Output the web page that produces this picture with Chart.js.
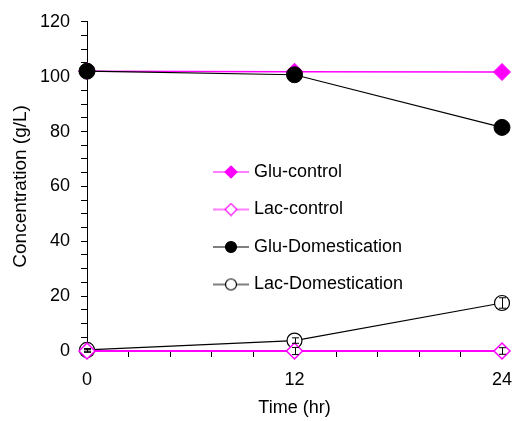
<!DOCTYPE html>
<html>
<head>
<meta charset="utf-8">
<script src="https://cdn.jsdelivr.net/npm/chart.js@4.4.1/dist/chart.umd.min.js"></script>
<style>
  body { margin: 0; background: #fff; }
  #wrap { width: 512px; height: 421px; }
</style>
</head>
<body>
<div id="wrap"><canvas id="chart" width="512" height="421"></canvas></div>
<script>
// sampling times (hr)
const hours = [0, 12, 24];

// concentrations (g/L)
const gluControl = [102, 101.8, 101.7];
const lacControl = [0, 0, 0];
const gluDomestication = [102, 100.7, 81.5];
const lacDomestication = [0.4, 3.8, 17.5];

// error bars (+/-)
const lacControlErr = [0.5, 1.3, 1.2];
const lacDomesticationErr = [0.5, 1.0, 1.9];

const xTickLabels = [0, 12, 24];
const yTickLabels = [0, 20, 40, 60, 80, 100, 120];

const MAGENTA = '#ff00ff';
const FONT = 'Arial, "Liberation Sans", sans-serif';

function pts(ys) {
    return hours.map((h, i) => ({ x: h, y: ys[i] }));
}

// little legend icon: line with marker in the middle
function makeIcon(color, style, fill) {
    const c = document.createElement('canvas');
    c.width = 36;
    c.height = 14;
    const g = c.getContext('2d');
    g.strokeStyle = color;
    g.lineWidth = 1.2;
    g.beginPath();
    g.moveTo(0, 7);
    g.lineTo(36, 7);
    g.stroke();
    g.fillStyle = fill;
    g.lineWidth = 1.2;
    g.beginPath();
    if (style === 'circle') {
        g.arc(18, 7, 5.5, 0, Math.PI * 2);
    } else {
        g.moveTo(12, 7);
        g.lineTo(18, 1);
        g.lineTo(24, 7);
        g.lineTo(18, 13);
        g.closePath();
    }
    g.fill();
    g.stroke();
    return c;
}

const icons = [
    makeIcon(MAGENTA, 'diamond', MAGENTA),
    makeIcon(MAGENTA, 'diamond', '#fff'),
    makeIcon('#000', 'circle', '#000'),
    makeIcon('#000', 'circle', '#fff')
];

// draws the error bars from the values through the scales
const errorBars = {
    id: 'errorBars',
    afterDatasetsDraw(chart) {
        const ctx = chart.ctx;
        const xs = chart.scales.x;
        const ys = chart.scales.y;
        ctx.save();
        ctx.strokeStyle = '#000';
        ctx.lineWidth = 1;
        chart.data.datasets.forEach(ds => {
            if (!ds.errors) return;
            ds.data.forEach((p, i) => {
                const e = ds.errors[i];
                const px = Math.round(xs.getPixelForValue(p.x)) + 0.5;
                const top = ys.getPixelForValue(p.y + e);
                const bot = ys.getPixelForValue(p.y - e);
                ctx.beginPath();
                ctx.moveTo(px, top);
                ctx.lineTo(px, bot);
                ctx.moveTo(px - 3.5, top);
                ctx.lineTo(px + 3.5, top);
                ctx.moveTo(px - 3.5, bot);
                ctx.lineTo(px + 3.5, bot);
                ctx.stroke();
            });
        });
        ctx.restore();
    }
};

// move the legend into the middle of the plot
const legendSpot = {
    id: 'legendSpot',
    afterLayout(chart) {
        const lg = chart.legend;
        const pad = lg.options.labels.padding;
        lg.left = 217 - pad;
        lg.top = 163 - pad;
        lg.right = 510;
        lg.bottom = lg.top + 300;
        lg.width = lg.right - lg.left;
        lg.height = lg.bottom - lg.top;
    }
};

new Chart(document.getElementById('chart'), {
    type: 'line',
    data: {
        datasets: [
            {
                label: 'Glu-control',
                data: pts(gluControl),
                borderColor: MAGENTA,
                backgroundColor: MAGENTA,
                borderWidth: 1.5,
                pointStyle: 'rectRot',
                pointRadius: 8.5,
                pointBorderWidth: 1,
                order: 3
            },
            {
                label: 'Lac-control',
                data: pts(lacControl),
                errors: lacControlErr,
                borderColor: MAGENTA,
                backgroundColor: '#fff',
                borderWidth: 2,
                pointStyle: 'rectRot',
                pointRadius: 8,
                pointBorderWidth: 1.5,
                order: 0
            },
            {
                label: 'Glu-Domestication',
                data: pts(gluDomestication),
                borderColor: '#000',
                backgroundColor: '#000',
                borderWidth: 1.2,
                pointStyle: 'circle',
                pointRadius: 8,
                pointBorderWidth: 1,
                order: 1
            },
            {
                label: 'Lac-Domestication',
                data: pts(lacDomestication),
                errors: lacDomesticationErr,
                borderColor: '#000',
                backgroundColor: '#fff',
                borderWidth: 1.2,
                pointStyle: 'circle',
                pointRadius: 7.5,
                pointBorderWidth: 1.2,
                order: 2
            }
        ]
    },
    options: {
        responsive: false,
        animation: false,
        layout: { padding: { top: 20, right: 10, left: 0, bottom: 0 } },
        datasets: { line: { clip: false, tension: 0, pointHoverRadius: 8 } },
        scales: {
            x: {
                type: 'linear',
                min: 0,
                max: 24,
                border: { display: true, color: '#000', width: 1 },
                grid: { drawOnChartArea: false, drawTicks: true, tickLength: 6, tickColor: '#000' },
                ticks: {
                    stepSize: 2.4,
                    autoSkip: false,
                    maxRotation: 0,
                    padding: 12,
                    color: '#000',
                    font: { family: FONT, size: 18 },
                    callback: v => xTickLabels.includes(Math.round(v * 10) / 10) ? String(v) : ''
                },
                title: {
                    display: true,
                    text: 'Time (hr)',
                    color: '#000',
                    font: { family: FONT, size: 18 },
                    padding: { top: 0, bottom: 2 }
                },
                afterFit: s => {
                    s.height = 70;
                    s.paddingLeft = 0;
                    s.paddingRight = 0;
                }
            },
            y: {
                min: 0,
                max: 120,
                border: { display: true, color: '#000', width: 1 },
                grid: { drawOnChartArea: false, drawTicks: true, tickLength: 6, tickColor: '#000' },
                ticks: {
                    stepSize: 5,
                    autoSkip: false,
                    padding: 11,
                    color: '#000',
                    font: { family: FONT, size: 18 },
                    callback: v => yTickLabels.includes(v) ? String(v) : ''
                },
                title: {
                    display: true,
                    text: 'Concentration (g/L)',
                    color: '#000',
                    font: { family: FONT, size: 19 },
                    padding: { top: 9, bottom: 0 }
                },
                afterFit: s => { s.width = 87; }
            }
        },
        plugins: {
            tooltip: { enabled: false },
            legend: {
                position: 'chartArea',
                align: 'start',
                labels: {
                    usePointStyle: true,
                    pointStyleWidth: 28,
                    padding: 19.5,
                    color: '#000',
                    font: { family: FONT, size: 18 },
                    generateLabels: chart => chart.data.datasets.map((ds, i) => ({
                        text: ds.label,
                        pointStyle: icons[i],
                        datasetIndex: i,
                        fontColor: '#000',
                        lineWidth: 0,
                        hidden: false
                    }))
                }
            }
        }
    },
    plugins: [errorBars, legendSpot]
});
</script>
</body>
</html>
